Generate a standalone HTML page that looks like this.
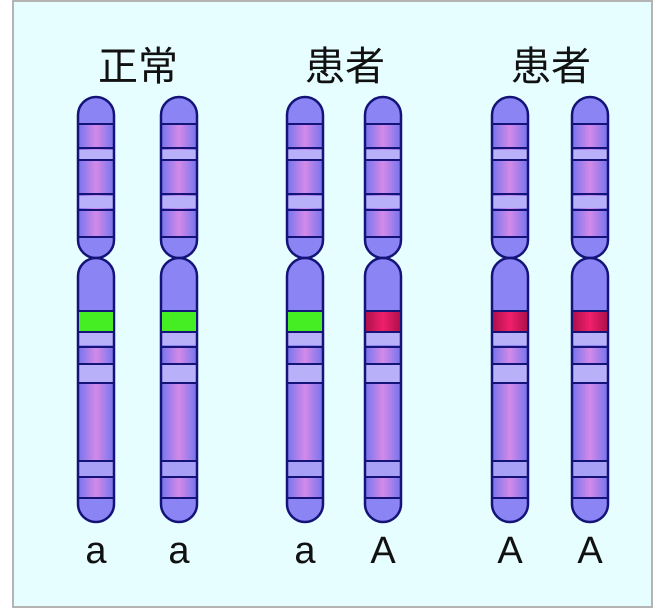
<!DOCTYPE html>
<html><head><meta charset="utf-8"><style>
html,body{margin:0;padding:0;background:#fff;}
svg{display:block;}
</style></head><body>
<svg width="661" height="610" viewBox="0 0 661 610" xmlns="http://www.w3.org/2000/svg">
<defs>
<linearGradient id="g" x1="0" x2="1" y1="0" y2="0">
<stop offset="0" stop-color="#7474ee"/><stop offset="0.5" stop-color="#d48ae8"/><stop offset="1" stop-color="#7474ee"/>
</linearGradient>
<linearGradient id="gr" x1="0" x2="1" y1="0" y2="0">
<stop offset="0" stop-color="#b0104c"/><stop offset="0.5" stop-color="#f0206a"/><stop offset="1" stop-color="#b0104c"/>
</linearGradient>
<g id="chr">
 <!-- upper arm -->
 <rect x="0" y="97" width="36" height="161" rx="18" fill="#8a84f4"/>
 <rect x="0" y="124" width="36" height="113" fill="url(#g)"/>
 <rect x="0" y="150" width="36" height="10" fill="#b8b0f8"/>
 <rect x="0" y="196" width="36" height="12" fill="#b8b0f8"/>
 <g stroke="#141478" stroke-width="2">
  <line x1="0" x2="36" y1="124" y2="124"/><line x1="0" x2="36" y1="148" y2="148"/>
  <line x1="0" x2="36" y1="160" y2="160"/><line x1="0" x2="36" y1="194" y2="194"/>
  <line x1="0" x2="36" y1="210" y2="210"/><line x1="0" x2="36" y1="237" y2="237"/>
 </g>
 <rect x="0" y="97" width="36" height="161" rx="18" fill="none" stroke="#141478" stroke-width="2.5"/>
 <!-- lower arm -->
 <rect x="0" y="258" width="36" height="264" rx="18" fill="#8a84f4"/>
 <rect x="0" y="333" width="36" height="12" fill="#b8b0f8"/>
 <rect x="0" y="348" width="36" height="16" fill="url(#g)"/>
 <rect x="0" y="365" width="36" height="17" fill="#b8b0f8"/>
 <rect x="0" y="383" width="36" height="78" fill="url(#g)"/>
 <rect x="0" y="462" width="36" height="14" fill="#a8a0f6"/>
 <rect x="0" y="477" width="36" height="21" fill="url(#g)"/>
 <g stroke="#141478" stroke-width="2">
  <line x1="0" x2="36" y1="311" y2="311"/><line x1="0" x2="36" y1="332" y2="332"/>
  <line x1="0" x2="36" y1="347" y2="347"/><line x1="0" x2="36" y1="364" y2="364"/>
  <line x1="0" x2="36" y1="383" y2="383"/><line x1="0" x2="36" y1="461" y2="461"/>
  <line x1="0" x2="36" y1="477" y2="477"/><line x1="0" x2="36" y1="498" y2="498"/>
 </g>
 <rect x="0" y="258" width="36" height="264" rx="18" fill="none" stroke="#141478" stroke-width="2.5"/>
</g>
</defs>
<rect x="13" y="1" width="639" height="606" fill="#e6feff" stroke="#b4b4b4" stroke-width="2"/>
<g font-family="'Liberation Sans','Noto Sans CJK JP',sans-serif" font-size="40" text-anchor="middle" fill="#111">
<text x="138" y="80">正常</text>
<text x="345" y="80">患者</text>
<text x="551" y="80">患者</text>
</g>
<use href="#chr" x="78"/>
<use href="#chr" x="161"/>
<use href="#chr" x="287"/>
<use href="#chr" x="365"/>
<use href="#chr" x="492"/>
<use href="#chr" x="572"/>
<rect x="79" y="312" width="34" height="19" fill="#44ee22"/>
<rect x="162" y="312" width="34" height="19" fill="#44ee22"/>
<rect x="288" y="312" width="34" height="19" fill="#44ee22"/>
<rect x="366" y="312" width="34" height="19" fill="url(#gr)"/>
<rect x="493" y="312" width="34" height="19" fill="url(#gr)"/>
<rect x="573" y="312" width="34" height="19" fill="url(#gr)"/>
<g font-family="'Liberation Sans',sans-serif" font-size="38" text-anchor="middle" fill="#111">
<text x="96" y="563">a</text>
<text x="179" y="563">a</text>
<text x="305" y="563">a</text>
<text x="383" y="563">A</text>
<text x="510" y="563">A</text>
<text x="590" y="563">A</text>
</g>
</svg>
</body></html>
